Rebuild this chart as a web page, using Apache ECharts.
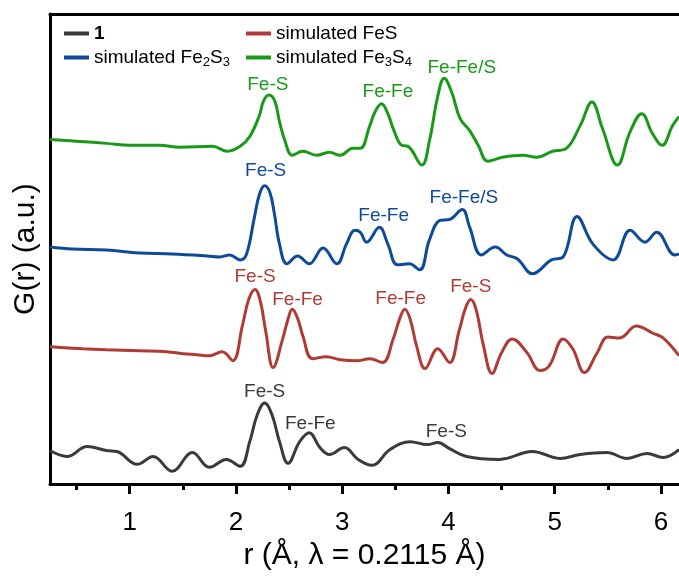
<!DOCTYPE html>
<html><head><meta charset="utf-8">
<script src="https://cdn.jsdelivr.net/npm/echarts@6/dist/echarts.min.js"></script>
<style>html,body{margin:0;padding:0;background:#fff}#c{width:679px;height:576px}</style>
</head><body><div id="c"></div>
<script>
// r (Å) values and G(r) (a.u., offset) values
const sample1 = [[0.25,34],[0.41,28],[0.60,38],[0.78,34],[0.88,33],[1.07,20],[1.22,28],[1.40,13],[1.59,32],[1.75,17],[1.91,25],[2.04,18],[2.13,43],[2.20,70],[2.27,82],[2.34,70],[2.41,43],[2.49,21],[2.60,43],[2.69,52],[2.79,37],[2.88,30],[3.02,37],[3.15,25],[3.28,19],[3.45,35],[3.64,43],[3.80,40],[3.90,42],[4.01,36],[4.17,28],[4.48,25],[4.79,33],[5.05,26],[5.24,30],[5.49,32],[5.68,26],[5.87,31],[6.02,27],[6.17,35]];
const simFeS = [[0.25,139],[0.56,137],[0.78,136],[1.09,135],[1.35,134],[1.50,132],[1.63,131],[1.75,130],[1.87,134],[1.97,125],[2.06,160],[2.12,187],[2.18,197],[2.23,185],[2.28,155],[2.35,118],[2.44,147],[2.49,167],[2.53,177],[2.58,168],[2.63,150],[2.72,127],[2.85,129],[2.98,126],[3.15,125],[3.26,127],[3.38,123],[3.48,147],[3.54,167],[3.59,177],[3.64,167],[3.70,140],[3.78,117],[3.90,137],[4.01,123],[4.10,155],[4.16,178],[4.21,187],[4.26,177],[4.33,140],[4.41,112],[4.50,133],[4.60,147],[4.74,133],[4.86,115],[4.95,120],[5.08,147],[5.17,137],[5.28,113],[5.40,133],[5.50,149],[5.61,148],[5.77,160],[5.92,153],[6.02,148],[6.17,130]];
const simFe2S3 = [[0.25,240],[0.46,238],[0.78,237],[1.09,234],[1.40,233],[1.73,231],[1.85,230],[1.94,232],[2.04,227],[2.10,233],[2.17,268],[2.22,293],[2.27,302],[2.32,295],[2.36,275],[2.41,243],[2.48,223],[2.58,231],[2.69,223],[2.82,239],[2.95,223],[3.04,243],[3.12,257],[3.17,255],[3.23,245],[3.35,260],[3.43,243],[3.52,222],[3.63,223],[3.73,217],[3.82,247],[3.92,267],[4.01,268],[4.13,278],[4.20,260],[4.31,232],[4.44,240],[4.55,232],[4.65,228],[4.79,213],[4.97,227],[5.08,230],[5.21,271],[5.36,243],[5.55,227],[5.71,257],[5.85,245],[5.96,255],[6.13,232],[6.17,233]];
const simFe3S4 = [[0.25,349],[0.53,347],[0.78,345],[1.00,343],[1.28,343],[1.47,341],[1.78,342],[1.92,337],[2.04,342],[2.13,352],[2.22,373],[2.26,388],[2.31,394],[2.365,388],[2.41,367],[2.46,348],[2.53,333],[2.63,337],[2.76,333],[2.88,336],[2.98,333],[3.10,340],[3.17,340],[3.26,363],[3.31,377],[3.37,385],[3.43,375],[3.48,360],[3.56,343],[3.62,342],[3.75,323],[3.82,347],[3.90,393],[3.96,411],[4.03,397],[4.11,370],[4.20,358],[4.28,343],[4.37,327],[4.51,331],[4.70,333],[4.83,331],[4.98,337],[5.11,340],[5.24,363],[5.35,387],[5.45,360],[5.59,323],[5.71,357],[5.82,375],[5.92,355],[6.01,343],[6.11,363],[6.17,372]];

const seriesNames = ['1','simulated FeS','simulated Fe2S3','simulated Fe3S4'];
const seriesColors = ['#3a3a3a','#b03a35','#0e4a9a','#189a18'];
const majorTicks = [1,2,3,4,5,6];
const minorTicks = [0.5,1.5,2.5,3.5,4.5,5.5];

// peak annotations: [text, r, G]
const notes1 = [['Fe-S',2.27,93],['Fe-Fe',2.70,61],['Fe-S',3.98,53]];
const notesFeS = [['Fe-S',2.18,210],['Fe-Fe',2.58,187],['Fe-Fe',3.55,188],['Fe-S',4.21,200]];
const notesFe2S3 = [['Fe-S',2.28,317],['Fe-Fe',3.39,272],['Fe-Fe/S',4.145,290]];
const notesFe3S4 = [['Fe-S',2.30,404],['Fe-Fe',3.43,397],['Fe-Fe/S',4.126,422]];

const FONT = '"Liberation Sans", Arial, sans-serif';
const chart = echarts.init(document.getElementById('c'));
const datas = [sample1, simFeS, simFe2S3, simFe3S4];
const notes = [notes1, notesFeS, notesFe2S3, notesFe3S4];
const XMIN = 0.25, XMAX = 6.17;

function mkSeries(i){
  return {
    name: seriesNames[i], type:'line', data: datas[i], smooth:0.4, symbol:'none',
    xAxisIndex:0, yAxisIndex:0,
    lineStyle:{color:seriesColors[i], width:3}, itemStyle:{color:seriesColors[i]},
    markPoint:{
      symbol:'circle', symbolSize:0, animation:false,
      label:{show:true, position:'inside', formatter:'{b}', color:seriesColors[i], fontSize:19, fontFamily:FONT},
      data: notes[i].map(n=>({name:n[0], coord:[n[1],n[2]]}))
    }
  };
}
const legendText = {fontSize:19, fontFamily:FONT, color:'#000',
  rich:{ b:{fontWeight:'bold', fontSize:19, fontFamily:FONT, color:'#000'},
         s:{fontSize:13, fontFamily:FONT, color:'#000', padding:[9,0,0,0]} } };
function fmt(name){
  if(name==='1') return '{b|1}';
  return name.replace(/Fe(\d)S(\d)/, 'Fe{s|$1}S{s|$2}');
}
chart.setOption({
  animation:false,
  textStyle:{fontFamily:FONT},
  grid:{left:50, right:0, top:14, bottom:86},
  legend:[
    {data:['1','simulated Fe2S3'], orient:'vertical', left:59, top:19, itemGap:5, itemWidth:25, itemHeight:4, icon:'rect', formatter:fmt, textStyle:legendText},
    {data:['simulated FeS','simulated Fe3S4'], orient:'vertical', left:241, top:19, itemGap:5, itemWidth:25, itemHeight:4, icon:'rect', formatter:fmt, textStyle:legendText}
  ],
  xAxis:[
    {type:'value', min:XMIN, max:XMAX, position:'bottom',
     name:'r (Å, λ = 0.2115 Å)', nameLocation:'middle', nameGap:53,
     nameTextStyle:{fontSize:30, color:'#000', fontFamily:FONT},
     axisLine:{lineStyle:{color:'#000', width:3}},
     axisTick:{customValues:majorTicks, length:10, lineStyle:{color:'#000', width:3}},
     axisLabel:{customValues:majorTicks, fontSize:26, color:'#000', margin:26, fontFamily:FONT},
     splitLine:{show:false}},
    {type:'value', min:XMIN, max:XMAX, position:'bottom',
     axisLine:{show:false},
     axisTick:{customValues:minorTicks, length:6, lineStyle:{color:'#000', width:3}},
     axisLabel:{show:false}, splitLine:{show:false}},
    {type:'value', min:XMIN, max:XMAX, position:'top',
     axisLine:{lineStyle:{color:'#000', width:3}},
     axisTick:{show:false}, axisLabel:{show:false}, splitLine:{show:false}}
  ],
  yAxis:{type:'value', min:0, max:476,
    name:'G(r) (a.u.)', nameLocation:'middle', nameGap:9,
    nameTextStyle:{fontSize:30, color:'#000', fontFamily:FONT},
    axisLine:{show:true, lineStyle:{color:'#000', width:3}},
    axisTick:{show:false}, axisLabel:{show:false}, splitLine:{show:false}},
  series:[mkSeries(0), mkSeries(1), mkSeries(2), mkSeries(3)]
});
</script></body></html>
